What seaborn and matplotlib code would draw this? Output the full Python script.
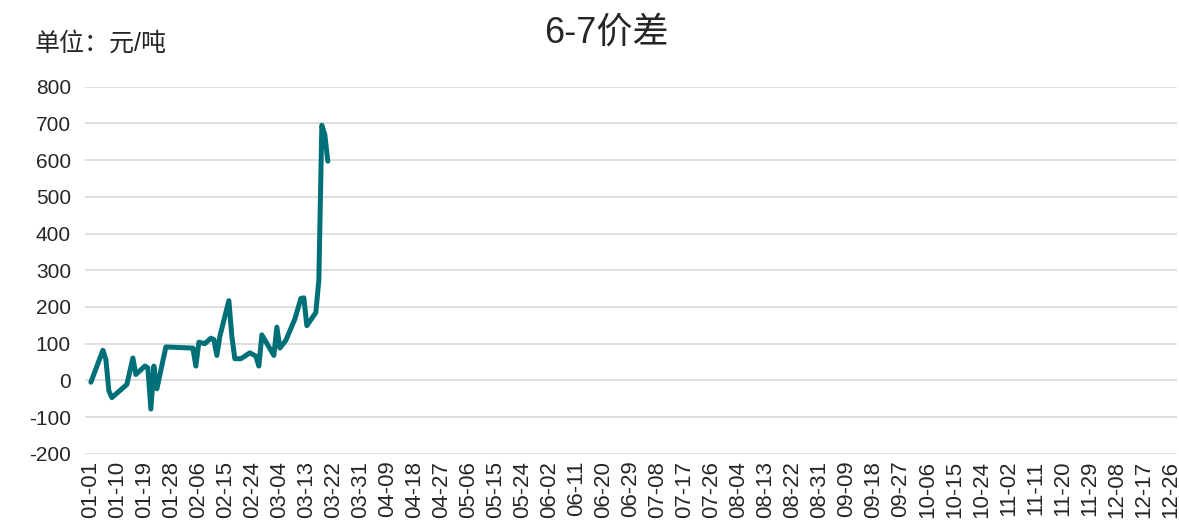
import matplotlib
matplotlib.use('Agg')
import matplotlib.pyplot as plt
import matplotlib.dates as mdates
import pandas as pd
import seaborn as sns

# 交易日(2024年的月-日)与6-7价差(元/吨)
dates = ['01-01', '01-05', '01-06', '01-07', '01-08', '01-13', '01-15', '01-16',
         '01-19', '01-20', '01-21', '01-22', '01-23', '01-26', '02-04', '02-05',
         '02-06', '02-08', '02-10', '02-11', '02-12', '02-13', '02-16', '02-17',
         '02-18', '02-20', '02-23', '02-25', '02-26', '02-27', '03-02', '03-03',
         '03-04', '03-06', '03-09', '03-11', '03-12', '03-13', '03-16', '03-17',
         '03-18', '03-19', '03-20']
values = [-5, 82, 57, -29, -47, -11, 61, 16,
          39, 34, -78, 39, -23, 91, 88, 39,
          104, 100, 115, 111, 68, 120, 217, 120,
          59, 59, 75, 66, 39, 124, 68, 145,
          88, 109, 167, 223, 225, 149, 185, 273,
          695, 669, 597]

df = pd.DataFrame({'date': pd.to_datetime(['2024-' + d for d in dates]), 'spread': values})

sns.set_style('white')
plt.rcParams['font.family'] = ['Liberation Sans', 'Noto Sans CJK SC', 'DejaVu Sans']
plt.rcParams['axes.unicode_minus'] = False

fig = plt.figure(figsize=(11.79, 5.32), dpi=100)
ax = fig.add_axes([0.072, 0.147, 0.926, 0.69])

sns.lineplot(data=df, x='date', y='spread', ax=ax, color='#007078', linewidth=3.6)

ax.set_ylim(-200, 800)
ax.set_yticks(range(-200, 801, 100))
ax.set_xlim(pd.Timestamp('2023-12-30'), pd.Timestamp('2024-12-28'))
ax.set_xticks(pd.date_range('2024-01-01', '2024-12-31', freq='9D'))
ax.xaxis.set_major_formatter(mdates.DateFormatter('%m-%d'))
ax.tick_params(axis='x', rotation=90, labelsize=16, length=0, pad=5)
ax.tick_params(axis='y', labelsize=15, length=0, pad=10)

ax.grid(axis='y', color='#d9d9d9', linewidth=1.2)
ax.grid(axis='x', visible=False)
for s in ax.spines.values():
    s.set_visible(False)
ax.set_xlabel('')
ax.set_ylabel('')

fig.text(0.514, 0.938, '6-7价差', fontsize=26, ha='center', va='center')
fig.text(0.029, 0.918, '单位：元/吨', fontsize=18, ha='left', va='center')

fig.savefig('out.png', dpi=100)
